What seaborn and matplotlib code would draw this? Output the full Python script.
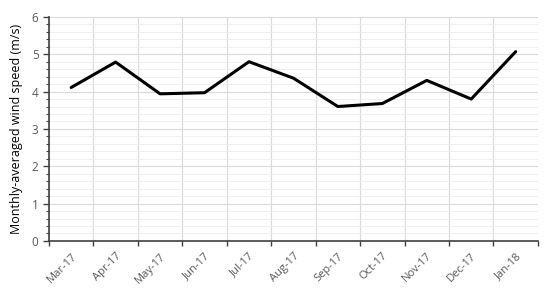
import matplotlib
matplotlib.use("Agg")
import matplotlib.pyplot as plt
import pandas as pd
import seaborn as sns
from matplotlib.ticker import MultipleLocator, FixedLocator

months = ["Mar-17", "Apr-17", "May-17", "Jun-17", "Jul-17", "Aug-17",
          "Sep-17", "Oct-17", "Nov-17", "Dec-17", "Jan-18"]
wind_speed = [4.11, 4.79, 3.94, 3.97, 4.80, 4.36, 3.60, 3.68, 4.30, 3.80, 5.07]

df = pd.DataFrame({"month": months, "speed": wind_speed})
df["pos"] = range(len(df))

sns.set_theme(style="white")
plt.rcParams["font.family"] = ["Open Sans", "DejaVu Sans"]

fig = plt.figure(figsize=(5.5, 2.92), dpi=100)
ax = fig.add_axes([0.089, 0.175, 0.889, 0.767])

sns.lineplot(data=df, x="pos", y="speed", color="black", linewidth=2.2, ax=ax)

ax.set_xlim(-0.5, len(months) - 0.5)
ax.set_ylim(0, 6)

# labels at category centres, gridlines/ticks at category boundaries
ax.xaxis.set_major_locator(FixedLocator(list(range(len(months)))))
ax.set_xticklabels(months, rotation=45, ha="right", rotation_mode="anchor",
                   color="#595959", fontsize=8)
ax.xaxis.set_minor_locator(FixedLocator([i + 0.5 for i in range(-1, len(months))]))
ax.tick_params(axis="x", which="major", length=0, pad=7)
ax.tick_params(axis="x", which="minor", length=3.5, width=1, color="#404040",
               direction="out", bottom=True)

ax.yaxis.set_major_locator(MultipleLocator(1))
ax.yaxis.set_minor_locator(MultipleLocator(0.2))
ax.tick_params(axis="y", which="major", length=4, width=1, color="#404040",
               labelcolor="#595959", labelsize=8.5, left=True)
ax.tick_params(axis="y", which="minor", length=2.5, width=0.8, color="#404040",
               left=True)

ax.grid(True, which="major", axis="y", color="#d9d9d9", linewidth=0.8)
ax.grid(True, which="minor", axis="y", color="#ececec", linewidth=0.6)
ax.grid(True, which="minor", axis="x", color="#d9d9d9", linewidth=0.8)
ax.set_axisbelow(True)

for side in ["top", "right"]:
    ax.spines[side].set_visible(False)
for side in ["left", "bottom"]:
    ax.spines[side].set_color("#404040")
    ax.spines[side].set_linewidth(1.2)

ax.set_xlabel("")
ax.set_ylabel("Monthly-averaged wind speed (m/s)", fontsize=9, color="black",
              labelpad=6)

fig.savefig("out.png", dpi=100)
